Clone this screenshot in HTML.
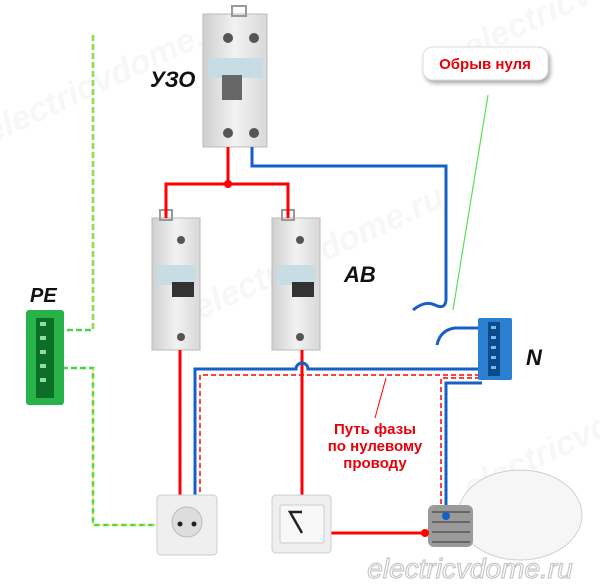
<!DOCTYPE html>
<html><head><meta charset="utf-8"><style>
html,body{margin:0;padding:0;background:#fff;width:600px;height:585px;overflow:hidden}
svg{display:block}
text{font-family:"Liberation Sans",sans-serif}
</style></head><body>
<svg width="600" height="585" viewBox="0 0 600 585" xmlns="http://www.w3.org/2000/svg">
<defs>
<linearGradient id="dev" x1="0" x2="1"><stop offset="0" stop-color="#cfcfcf"/><stop offset="0.5" stop-color="#f2f2f2"/><stop offset="1" stop-color="#d8d8d8"/></linearGradient>
</defs>
<!-- watermarks -->
<g font-size="34" font-weight="bold" font-style="italic" fill="#f7f7f7">
<text x="-10" y="140" transform="rotate(-25 0 140)">electricvdome.ru</text>
<text x="200" y="320" transform="rotate(-25 200 320)">electricvdome.ru</text>
<text x="470" y="60" transform="rotate(-25 470 60)">electricvdome</text>
<text x="470" y="500" transform="rotate(-25 470 500)">electricvdome</text>
</g>
<!-- PE green dashed -->
<g stroke="#4fd14f" stroke-width="2.5" fill="none" stroke-dasharray="6 3">
<path d="M93 35 V330 H62"/>
<path d="M62 368 H93 V525 H160"/>
</g>
<g stroke="#d8e84a" stroke-width="1" fill="none" stroke-dasharray="6 3"><path d="M93 35 V330"/><path d="M93 368 V525 H160"/></g>
<!-- PE bar -->
<rect x="26" y="310" width="38" height="95" rx="3" fill="#27b34a"/>
<g fill="#0d6e28"><rect x="36" y="318" width="18" height="80"/></g>
<g fill="#8fe09f"><rect x="40" y="322" width="6" height="4"/><rect x="40" y="336" width="6" height="4"/><rect x="40" y="350" width="6" height="4"/><rect x="40" y="364" width="6" height="4"/><rect x="40" y="378" width="6" height="4"/></g>
<!-- УЗО -->
<rect x="203" y="14" width="64" height="133" fill="url(#dev)" stroke="#bbb"/>
<rect x="232" y="6" width="14" height="10" fill="none" stroke="#999" stroke-width="2"/>
<rect x="208" y="58" width="55" height="20" fill="#c8dce4"/>
<rect x="222" y="75" width="20" height="25" fill="#666"/>
<circle cx="228" cy="38" r="5" fill="#555"/><circle cx="254" cy="38" r="5" fill="#555"/>
<circle cx="228" cy="133" r="5" fill="#555"/><circle cx="254" cy="133" r="5" fill="#555"/>
<!-- breakers -->
<g>
<rect x="152" y="218" width="48" height="132" fill="url(#dev)" stroke="#bbb"/>
<rect x="160" y="210" width="12" height="10" fill="none" stroke="#999" stroke-width="2"/>
<rect x="156" y="265" width="40" height="20" fill="#c8dce4"/>
<rect x="172" y="282" width="22" height="15" fill="#333"/>
<circle cx="181" cy="240" r="4" fill="#555"/><circle cx="181" cy="337" r="4" fill="#555"/>
<rect x="272" y="218" width="48" height="132" fill="url(#dev)" stroke="#bbb"/>
<rect x="282" y="210" width="12" height="10" fill="none" stroke="#999" stroke-width="2"/>
<rect x="276" y="265" width="40" height="20" fill="#c8dce4"/>
<rect x="292" y="282" width="22" height="15" fill="#333"/>
<circle cx="300" cy="240" r="4" fill="#555"/><circle cx="300" cy="337" r="4" fill="#555"/>
</g>
<!-- red phase -->
<g stroke="#f00" stroke-width="3" fill="none">
<path d="M228 147 V184"/><path d="M166 218 V184 H288 V218"/>
<path d="M180 350 V512"/>
<path d="M302 350 V512"/>
<path d="M302 533 H425"/>
</g>
<circle cx="228" cy="184" r="4" fill="#f00"/>
<!-- blue neutral -->
<g stroke="#1560c8" stroke-width="3" fill="none">
<path d="M252 147 V166 H446 V300 Q445 310 435 305 Q425 300 413 310"/>
<path d="M437 345 Q440 330 455 328 H482"/>
<path d="M482 369 H308 A6 6 0 0 0 296 369 H195 V512"/>
<path d="M482 383 H446 V515"/>
</g>
<!-- red dashed -->
<g stroke="#f00" stroke-width="1.5" fill="none" stroke-dasharray="5 3">
<path d="M480 375 H200 V522"/>
<path d="M480 378 H441 V505"/>
</g>
<line x1="386" y1="378" x2="375" y2="418" stroke="#f00" stroke-width="1"/>
<line x1="488" y1="95" x2="453" y2="310" stroke="#55e055" stroke-width="1.2"/>
<!-- N bar -->
<rect x="478" y="318" width="34" height="62" rx="2" fill="#2a7fd0"/>
<g fill="#0c4a8a"><rect x="488" y="322" width="12" height="54"/></g>
<g fill="#7ab8f0"><rect x="491" y="326" width="5" height="3"/><rect x="491" y="336" width="5" height="3"/><rect x="491" y="346" width="5" height="3"/><rect x="491" y="356" width="5" height="3"/><rect x="491" y="366" width="5" height="3"/></g>
<!-- socket -->
<rect x="157" y="495" width="60" height="60" rx="4" fill="#efefef" stroke="#ccc"/>
<circle cx="187" cy="522" r="15" fill="#ddd" stroke="#bbb"/>
<circle cx="180" cy="524" r="2.5" fill="#222"/><circle cx="194" cy="524" r="2.5" fill="#222"/>
<!-- switch -->
<rect x="272" y="495" width="59" height="58" rx="4" fill="#efefef" stroke="#ccc"/>
<rect x="280" y="505" width="44" height="38" rx="2" fill="#f8f8f8" stroke="#ccc"/>
<path d="M302 512 H290 L302 533" stroke="#222" stroke-width="2.5" fill="none"/>
<!-- bulb -->
<ellipse cx="520" cy="515" rx="62" ry="45" fill="#f6f6f6" stroke="#d0d0d0"/>
<rect x="428" y="505" width="45" height="42" rx="6" fill="#9a9a9a"/>
<g stroke="#666" stroke-width="2"><line x1="432" y1="512" x2="470" y2="512"/><line x1="432" y1="522" x2="470" y2="522"/><line x1="432" y1="532" x2="470" y2="532"/><line x1="432" y1="542" x2="470" y2="542"/></g>
<circle cx="446" cy="516" r="4" fill="#1560c8"/>
<circle cx="425" cy="533" r="4" fill="#f00"/>
<!-- labels -->
<text x="150" y="87" font-size="22" font-weight="bold" font-style="italic" fill="#111">УЗО</text>
<text x="344" y="282" font-size="22" font-weight="bold" font-style="italic" fill="#111">AB</text>
<text x="30" y="302" font-size="20" font-weight="bold" font-style="italic" fill="#111">PE</text>
<text x="526" y="365" font-size="22" font-weight="bold" font-style="italic" fill="#111">N</text>
<rect x="423" y="47" width="125" height="33" rx="10" fill="#fff" stroke="#ddd" style="filter:drop-shadow(2px 3px 2px #aaa)"/>
<text x="485" y="69" font-size="15" font-weight="bold" fill="#e8000a" text-anchor="middle">Обрыв нуля</text>
<g font-size="15" font-weight="bold" fill="#e8000a" text-anchor="middle">
<text x="375" y="434">Путь фазы</text>
<text x="375" y="451">по нулевому</text>
<text x="375" y="468">проводу</text>
</g>
<text x="470" y="578" font-size="28" font-style="italic" fill="#fff" stroke="#c8c8c8" stroke-width="1.2" text-anchor="middle">electricvdome.ru</text>
</svg>
</body></html>
